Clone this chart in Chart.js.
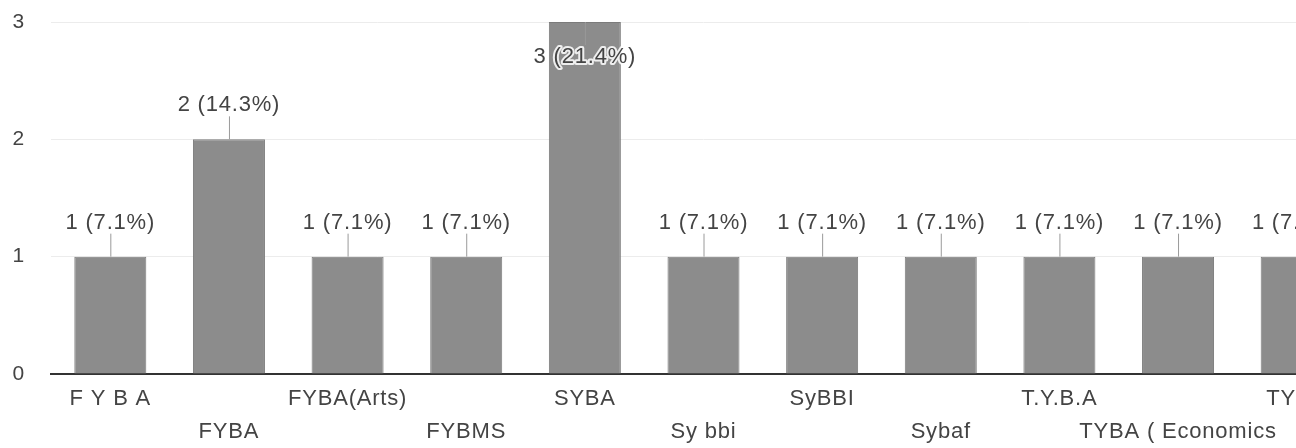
<!DOCTYPE html>
<html>
<head>
<meta charset="utf-8">
<script src="https://cdn.jsdelivr.net/npm/chart.js@4.4.1/dist/chart.umd.min.js"></script>
<style>
  html, body { margin: 0; padding: 0; background: #fff; overflow: hidden; }
  #wrap { width: 1356px; height: 448px; }
</style>
</head>
<body>
<div id="wrap"><canvas id="course-chart" width="1356" height="448"></canvas></div>
<script>
var courses = ["F Y B A", "FYBA", "FYBA(Arts)", "FYBMS", "SYBA", "Sy bbi", "SyBBI", "Sybaf", "T.Y.B.A", "TYBA ( Economics", "TYBA"];
var counts = [1, 2, 1, 1, 3, 1, 1, 1, 1, 1, 1];
var yTicks = [0, 1, 2, 3];

var total = counts.reduce(function (a, b) { return a + b; }, 0);
var fontFamily = "'Liberation Sans', Arial, sans-serif";

// slightly wide text, as in the screenshot
var spacing = {
  id: 'spacing',
  beforeDraw: function (chart) { chart.ctx.letterSpacing = '0.8px'; }
};

// value labels with a small leader line, like the forms summary chart
var barLabels = {
  id: 'barLabels',
  afterDatasetsDraw: function (chart) {
    var ctx = chart.ctx;
    var top = chart.chartArea.top;
    var meta = chart.getDatasetMeta(0);
    ctx.save();
    ctx.font = "22px " + fontFamily;
    ctx.textAlign = 'center';
    ctx.textBaseline = 'middle';
    meta.data.forEach(function (bar, i) {
      var v = counts[i];
      var text = v + ' (' + (v / total * 100).toFixed(1) + '%)';
      var ly, y1, y2;
      if (bar.y - 34 - 11 < top) {
        ly = bar.y + 35;
        y1 = bar.y; y2 = ly - 12;
      } else {
        ly = bar.y - 34;
        y1 = ly + 11; y2 = bar.y;
      }
      ctx.strokeStyle = '#9a9a9a';
      ctx.lineWidth = 1;
      ctx.beginPath();
      ctx.moveTo(bar.x + 0.5, y1);
      ctx.lineTo(bar.x + 0.5, y2);
      ctx.stroke();
      ctx.lineWidth = 4;
      ctx.strokeStyle = 'rgba(255,255,255,0.85)';
      ctx.lineJoin = 'round';
      ctx.strokeText(text, bar.x, ly);
      ctx.fillStyle = '#444';
      ctx.fillText(text, bar.x, ly);
    });
    ctx.restore();
  }
};

var ctx = document.getElementById("course-chart");
var myChart = new Chart(ctx, {
  type: 'bar',
  data: {
    labels: courses,
    datasets: [{
      label: "Responses",
      data: counts,
      backgroundColor: "#8c8c8c",
      borderColor: "#7b7b7b",
      borderWidth: 1,
      barPercentage: 0.607,
      categoryPercentage: 1
    }]
  },
  options: {
    responsive: false,
    animation: false,
    layout: { padding: { top: 22, right: 0, bottom: 0, left: 0 } },
    plugins: {
      legend: { display: false },
      tooltip: { enabled: false }
    },
    scales: {
      x: {
        afterFit: function (scale) { scale.height = 74; },
        grid: { display: false, drawTicks: false },
        border: { display: true, color: '#333', width: 2 },
        ticks: {
          autoSkip: false,
          maxRotation: 0,
          minRotation: 0,
          padding: 8,
          color: '#444',
          font: { family: fontFamily, size: 22, lineHeight: 1.5 },
          callback: function (val, i) {
            return i % 2 === 0 ? [courses[i], ''] : ['', courses[i]];
          }
        }
      },
      y: {
        min: 0,
        max: 3,
        afterFit: function (scale) {
          scale.width = 51;
          scale.paddingTop = 0;
          scale.paddingBottom = 0;
        },
        afterBuildTicks: function (scale) {
          scale.ticks = yTicks.map(function (v) { return { value: v }; });
        },
        grid: {
          drawTicks: false,
          color: function (c) { return c.tick && c.tick.value === 0 ? 'rgba(0,0,0,0)' : '#ececec'; }
        },
        border: { display: false },
        ticks: {
          padding: 26,
          color: '#444',
          font: { family: fontFamily, size: 21 }
        }
      }
    }
  },
  plugins: [spacing, barLabels]
});
</script>
</body>
</html>
